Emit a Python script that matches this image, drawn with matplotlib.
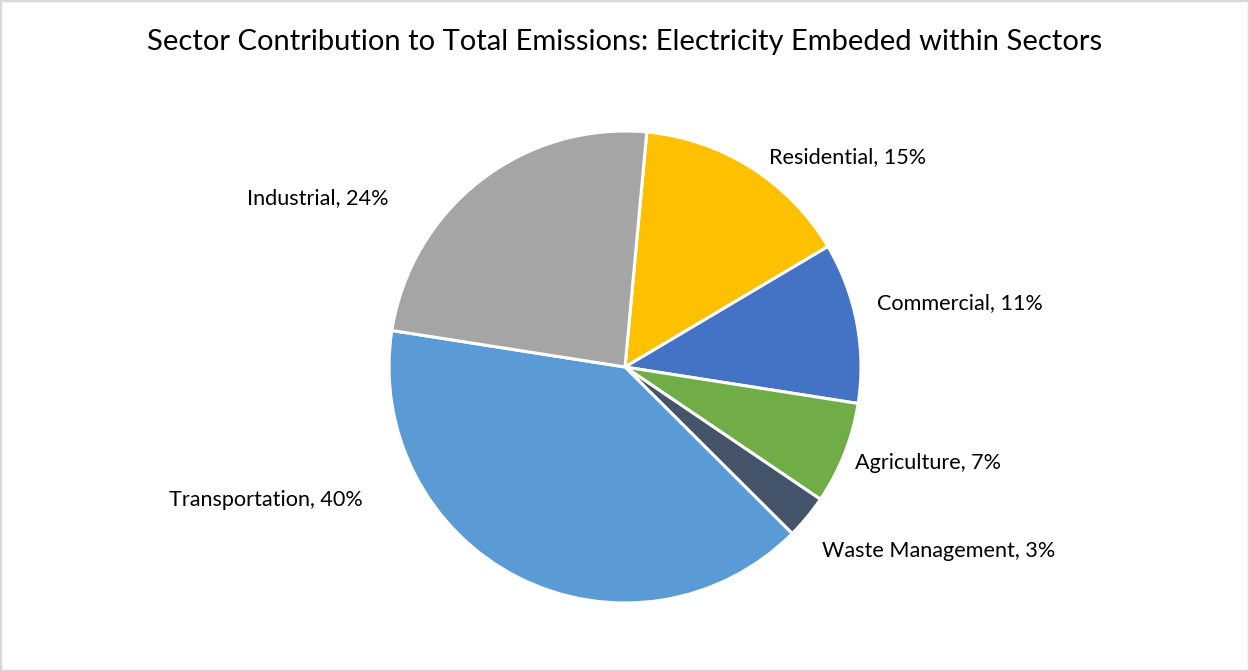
import matplotlib.pyplot as plt
from matplotlib.patches import Rectangle

sectors = ['Residential', 'Commercial', 'Agriculture', 'Waste Management',
           'Transportation', 'Industrial']
shares = [15, 11, 7, 3, 40, 24]
colors = ['#FFC000', '#4472C4', '#70AD47', '#44546A', '#5B9BD5', '#A5A5A5']

# label anchors in pie-radius units (text centres)
label_pos = [(0.945, 0.89), (1.417, 0.271), (1.284, -0.407), (1.331, -0.78),
             (-1.522, -0.564), (-1.301, 0.716)]

plt.rcParams['font.family'] = ['Lato', 'DejaVu Sans']

W, H = 1249, 671
cx, cy, R = 625, 367, 236

fig = plt.figure(figsize=(W / 100, H / 100), dpi=100)
ax = fig.add_axes([0, 0, 1, 1])

ax.pie(shares, colors=colors, startangle=90 - 5.3, counterclock=False,
       radius=1, center=(0, 0), frame=True,
       wedgeprops=dict(edgecolor='white', linewidth=2.2))
ax.set_xlim(-cx / R, (W - cx) / R)
ax.set_ylim(-(H - cy) / R, cy / R)
ax.set_aspect('auto')
ax.axis('off')

for name, val, (lx, ly) in zip(sectors, shares, label_pos):
    ax.text(lx, ly, '{}, {}%'.format(name, val), ha='center', va='center',
            fontsize=15.6, color='#000000')

fig.text(0.5, 1 - 42 / H,
         'Sector Contribution to Total Emissions: Electricity Embeded within Sectors',
         ha='center', va='center', fontsize=21, color='#000000')

fig.patches.append(Rectangle((0, 0), 1, 1, transform=fig.transFigure,
                             fill=False, edgecolor='#D9D9D9', linewidth=2.5))

fig.savefig('out.png', dpi=100)
